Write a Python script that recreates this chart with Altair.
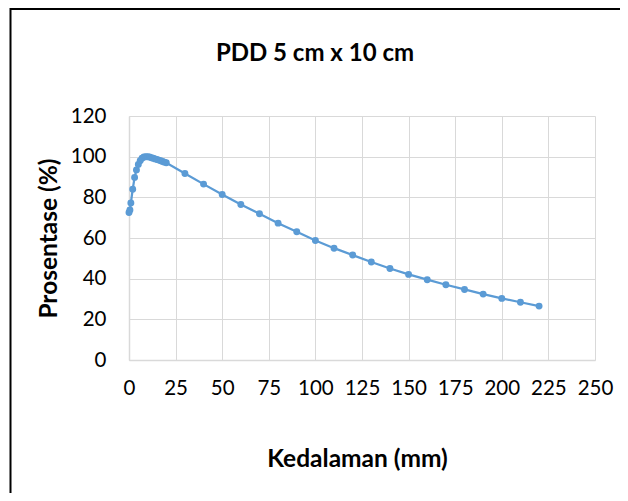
import altair as alt
import pandas as pd

depth_mm = [0, 0.5, 1, 2, 3, 4, 5, 6, 7, 8, 9, 10, 11, 12, 13, 14, 15, 16, 17, 18, 19, 20,
            30, 40, 50, 60, 70, 80, 90, 100, 110, 120, 130, 140, 150, 160, 170, 180,
            190, 200, 210, 220]
percent = [72.5, 73.8, 77.2, 84.0, 89.8, 93.5, 96.2, 98.0, 99.2, 99.8, 100.0, 100.0, 99.8,
           99.5, 99.2, 98.9, 98.6, 98.3, 98.0, 97.6, 97.3, 97.0,
           91.7, 86.5, 81.4, 76.5, 71.9, 67.3, 63.1, 58.8, 55.0, 51.6, 48.2, 45.0,
           42.1, 39.5, 37.0, 34.7, 32.4, 30.3, 28.4, 26.5]

x_ticks = [0, 25, 50, 75, 100, 125, 150, 175, 200, 225, 250]
y_ticks = [0, 20, 40, 60, 80, 100, 120]

df = pd.DataFrame({"Kedalaman": depth_mm, "Prosentase": percent})

FONT = "Lato"
W, H = 466, 244
PAD = {"left": 121, "top": 108, "right": 25, "bottom": 133}

base = alt.Chart(df).encode(
    x=alt.X("Kedalaman:Q",
            scale=alt.Scale(domain=[0, 250], nice=False),
            axis=alt.Axis(values=x_ticks, title="Kedalaman (mm)", labelOverlap=False,
                          labelFlush=False,
                          titleX=228, titleY=87, titleAlign="center")),
    y=alt.Y("Prosentase:Q",
            scale=alt.Scale(domain=[0, 120], nice=False),
            axis=alt.Axis(values=y_ticks, title="Prosentase (%)", labelOverlap=False,
                          titleX=-68, titleY=122, titleAlign="center")),
)

line = base.mark_line(color="#5B9BD5", strokeWidth=2.25)
pts = base.mark_point(filled=True, color="#5B9BD5", size=48, opacity=1)

frame_data = alt.Data(values=[{"a": 1}])
top_edge = alt.Chart(frame_data).mark_rule(color="black", strokeWidth=2).encode(
    x=alt.value(-119), x2=alt.value(W + PAD["right"]),
    y=alt.value(-107),
)
left_edge = alt.Chart(frame_data).mark_rule(color="black", strokeWidth=2).encode(
    x=alt.value(-118.5),
    y=alt.value(-108), y2=alt.value(H + PAD["bottom"]),
)

chart = alt.layer(line, pts, top_edge, left_edge).properties(
    width=W, height=H,
    title=alt.TitleParams("PDD 5 cm x 10 cm", anchor="middle", frame="bounds",
                          offset=-59, font=FONT, fontSize=24, fontWeight="bold",
                          color="#000000"),
    autosize=alt.AutoSizeParams(type="none"),
    padding=PAD,
    background="white",
).configure_view(strokeWidth=0).configure_axis(
    grid=True, gridColor="#D9D9D9", gridWidth=1,
    domainColor="#D9D9D9", domainWidth=1.5,
    ticks=False, tickSize=0,
    labelFont=FONT, labelFontSize=20.5, labelColor="#000000",
    titleFont=FONT, titleFontSize=24.5, titleFontWeight="bold", titleColor="#000000",
).configure_axisX(labelPadding=18).configure_axisY(labelPadding=23)

chart.save("out.html", embed_options={"renderer": "svg", "actions": False})
